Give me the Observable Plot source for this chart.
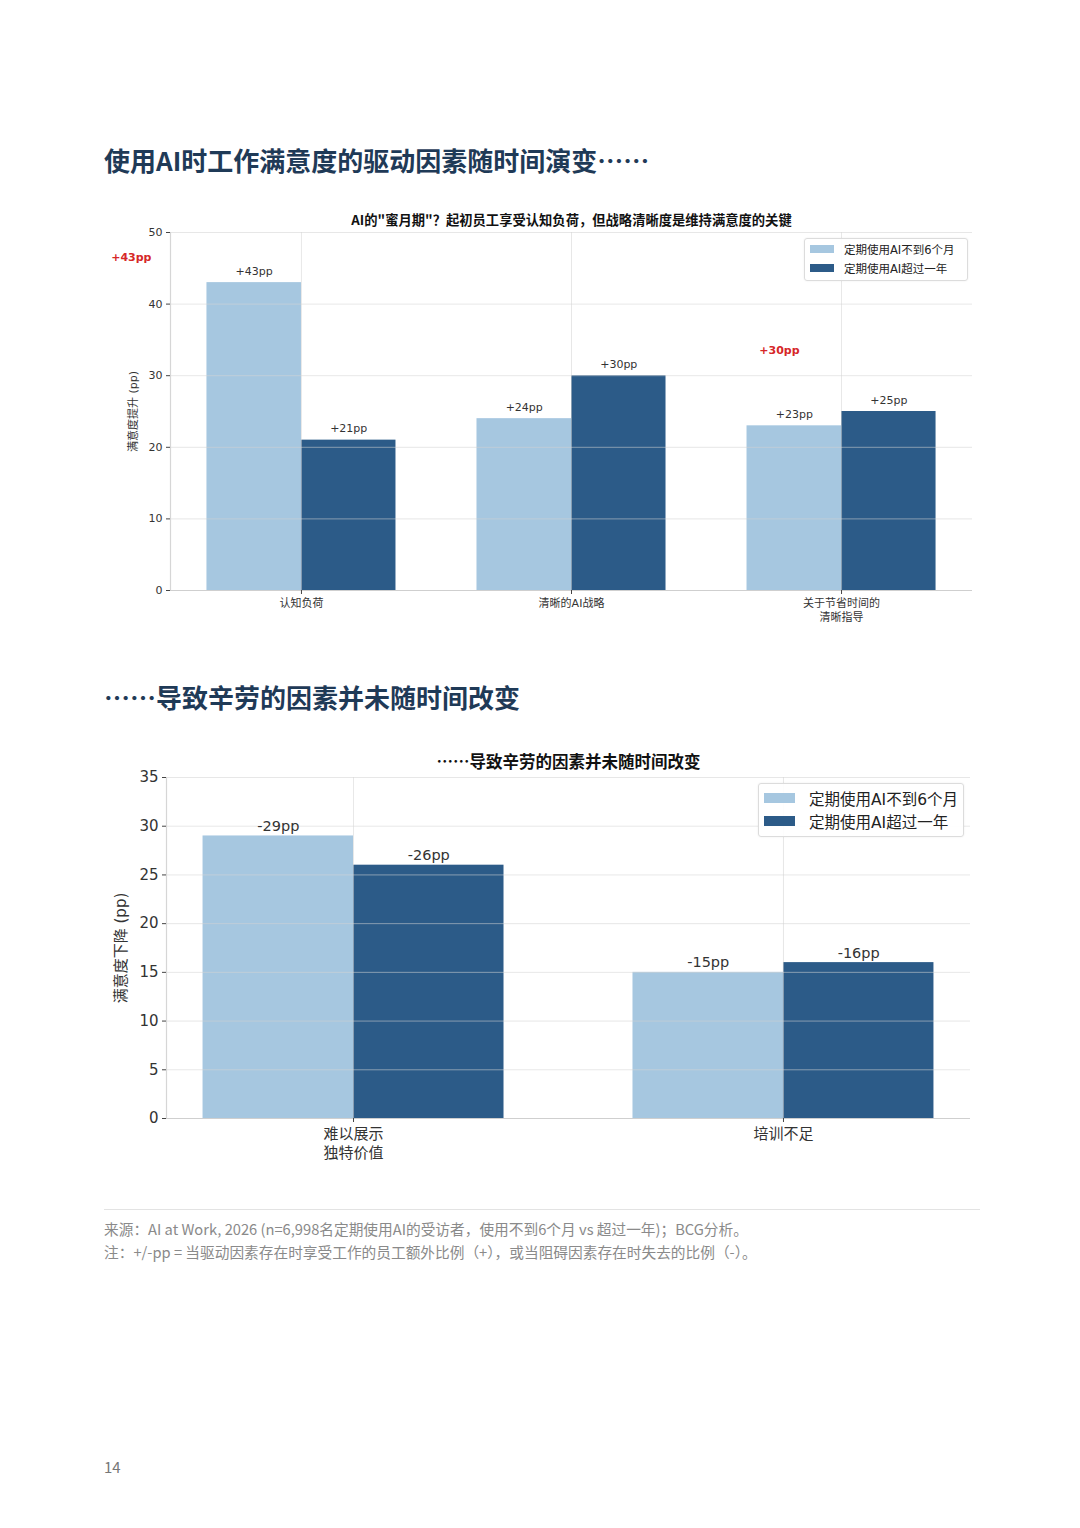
<!DOCTYPE html>
<html><head><meta charset="utf-8">
<script src="https://cdn.jsdelivr.net/npm/d3@7"></script>
<script src="https://cdn.jsdelivr.net/npm/@observablehq/plot@0.6"></script>
<style>
html,body{margin:0;padding:0;background:#fff;}
body{width:1080px;height:1528px;position:relative;overflow:hidden;font-family:"Noto Sans CJK SC","Noto Sans",sans-serif;}
.abs{position:absolute;}
.h{left:104px;font-weight:700;font-size:26px;color:#1f3a57;white-space:nowrap;line-height:1;}
.legend{position:absolute;background:rgba(255,255,255,0.9);border:1px solid #dcdcdc;border-radius:3px;box-shadow:0 0 2px rgba(0,0,0,0.08);font-family:"DejaVu Sans","Noto Sans CJK SC",sans-serif;color:#222;}
.legend .sw{position:absolute;}
.legend .tx{position:absolute;transform:translateY(-50%);white-space:nowrap;}
.note{left:104px;font-size:14.7px;color:#8a8a8a;white-space:nowrap;line-height:1;}
</style></head><body>
<div class="abs h" style="top:147px">使用AI时工作满意度的驱动因素随时间演变……</div>
<div id="c1" class="abs" style="left:0;top:200px;"></div>
<div class="abs h" style="top:684px">……导致辛劳的因素并未随时间改变</div>
<div id="c2" class="abs" style="left:0;top:740px;"></div>
<div class="abs" style="left:104px;top:1209px;width:876px;height:1px;background:#e3e3e3"></div>
<div class="abs note" style="top:1222px">来源：AI at Work, 2026 (n=6,998名定期使用AI的受访者，使用不到6个月 vs 超过一年)；BCG分析。</div>
<div class="abs note" style="top:1245px">注：+/-pp = 当驱动因素存在时享受工作的员工额外比例（+），或当阻碍因素存在时失去的比例（-）。</div>
<div class="abs" style="left:104px;top:1459px;font-size:15px;color:#777;line-height:1">14</div>
<script>
// ---------- data ----------
const seriesNames = ["定期使用AI不到6个月", "定期使用AI超过一年"];
const drivers = ["认知负荷", "清晰的AI战略", "关于节省时间的\n清晰指导"];
const driversShort = [43, 24, 23];
const driversLong = [21, 30, 25];
const driverTicks = [0, 10, 20, 30, 40, 50];
const barriers = ["难以展示\n独特价值", "培训不足"];
const barriersShort = [29, 15];
const barriersLong = [26, 16];
const barrierTicks = [0, 5, 10, 15, 20, 25, 30, 35];
const title1 = "AI的\"蜜月期\"？起初员工享受认知负荷，但战略清晰度是维持满意度的关键";
const title2 = "……导致辛劳的因素并未随时间改变";
const yLabel1 = "满意度提升 (pp)";
const yLabel2 = "满意度下降 (pp)";
const highlightLabels = ["+43pp", "+30pp"];
const highlightValues = [46.5, 33.5];

// ---------- styles ----------
const colors = ["#a6c7e0", "#2c5b88"];
const barW = 0.35;
const font = "'DejaVu Sans','Noto Sans CJK SC',sans-serif";

function makeRows(cats, a, b) {
  return cats.flatMap((c, i) => [
    {i, c, s: seriesNames[0], v: a[i], x1: i - barW, x2: i},
    {i, c, s: seriesNames[1], v: b[i], x1: i, x2: i + barW}
  ]);
}

function chart({cats, a, b, ticks, yMax, sign, title, yLabel, width, height, ml, mr, mt, mb,
                fs, labelFs, labelDy, titleFs, titleDy, yLabelDx, extra}) {
  const rows = makeRows(cats, a, b);
  const n = cats.length;
  const span = (n - 1) + 2 * barW;
  const xDomain = [-barW - span * 0.05, (n - 1) + barW + span * 0.05];
  return Plot.plot({
    width, height, marginLeft: ml, marginRight: mr, marginTop: mt, marginBottom: mb,
    style: {fontFamily: font, fontSize: fs + "px", color: "#333", background: "transparent"},
    x: {domain: xDomain},
    y: {domain: [0, yMax]},
    color: {domain: seriesNames, range: colors},
    marks: [
      Plot.rectY(rows, {x1: "x1", x2: "x2", y: "v", fill: "s"}),
      Plot.ruleY(ticks.slice(1), {stroke: "#d4d4d4", strokeOpacity: 0.55}),
      Plot.ruleX(d3.range(n), {stroke: "#d4d4d4", strokeOpacity: 0.55}),
      Plot.ruleY([0], {stroke: "#cfcfcf", strokeWidth: 1.2}),
      Plot.ruleX([xDomain[0]], {stroke: "#d6d6d6", strokeWidth: 1.2}),
      Plot.axisY({ticks, tickSize: 4, tickPadding: 4, fontSize: fs, label: null, stroke: "#444", fill: "#333"}),
      Plot.axisX({ticks: d3.range(n), tickFormat: i => cats[i], tickSize: 4, tickPadding: 3, fontSize: fs, label: null, stroke: "#444", fill: "#333", lineHeight: 1.25}),
      Plot.text(rows, {x: d => (d.x1 + d.x2) / 2, y: "v", text: d => sign + d.v + "pp", dy: labelDy, lineAnchor: "bottom", fontSize: labelFs, fill: "#333"}),
      Plot.text([title], {frameAnchor: "top", dy: titleDy, fontWeight: "bold", fontSize: titleFs, fill: "#111", lineAnchor: "middle", fontFamily: "'Noto Sans CJK SC',sans-serif"}),
      Plot.text([yLabel], {frameAnchor: "left", textAnchor: "middle", lineAnchor: "middle", rotate: -90, dx: yLabelDx, fontSize: fs, fill: "#333"}),
      ...(extra || [])
    ]
  });
}

// top chart
const highlights = [
  {label: highlightLabels[0], x: -0.63, y: highlightValues[0]},
  {label: highlightLabels[1], x: 1.77, y: highlightValues[1]}
];
const c1 = chart({
  cats: drivers, a: driversShort, b: driversLong, ticks: driverTicks, yMax: 50, sign: "+",
  title: title1, yLabel: yLabel1, width: 1080, height: 435, ml: 170, mr: 108, mt: 32, mb: 45,
  fs: 11, labelFs: 11, labelDy: -8, titleFs: 13.3, titleDy: -12, yLabelDx: -37,
  extra: [Plot.text(highlights, {x: "x", y: "y", text: "label", fill: "#d62728", fontWeight: "bold", fontSize: 11})]
});
document.getElementById("c1").appendChild(c1);

// bottom chart
const c2 = chart({
  cats: barriers, a: barriersShort, b: barriersLong, ticks: barrierTicks, yMax: 35, sign: "-",
  title: title2, yLabel: yLabel2, width: 1080, height: 428, ml: 166, mr: 110, mt: 37, mb: 50,
  fs: 15, labelFs: 14.5, labelDy: -5, titleFs: 16.5, titleDy: -15, yLabelDx: -45
});
document.getElementById("c2").appendChild(c2);

// legends
function legend(left, top, w, h, swW, swH, txL, rowYs, fs) {
  const el = document.createElement("div");
  el.className = "legend";
  Object.assign(el.style, {left: left + "px", top: top + "px", width: w + "px", height: h + "px", fontSize: fs + "px"});
  seriesNames.forEach((name, k) => {
    const sw = document.createElement("div");
    sw.className = "sw";
    Object.assign(sw.style, {left: "5px", top: (rowYs[k] - swH / 2) + "px", width: swW + "px", height: swH + "px", background: colors[k]});
    const tx = document.createElement("div");
    tx.className = "tx";
    tx.textContent = name;
    Object.assign(tx.style, {left: txL + "px", top: rowYs[k] + "px"});
    el.appendChild(sw); el.appendChild(tx);
  });
  document.body.appendChild(el);
}
legend(804, 238, 162, 41, 24, 8, 39, [10, 29], 11.5);
legend(758, 783, 204, 52, 31, 10, 50, [14, 37], 15.5);
</script>
</body></html>
